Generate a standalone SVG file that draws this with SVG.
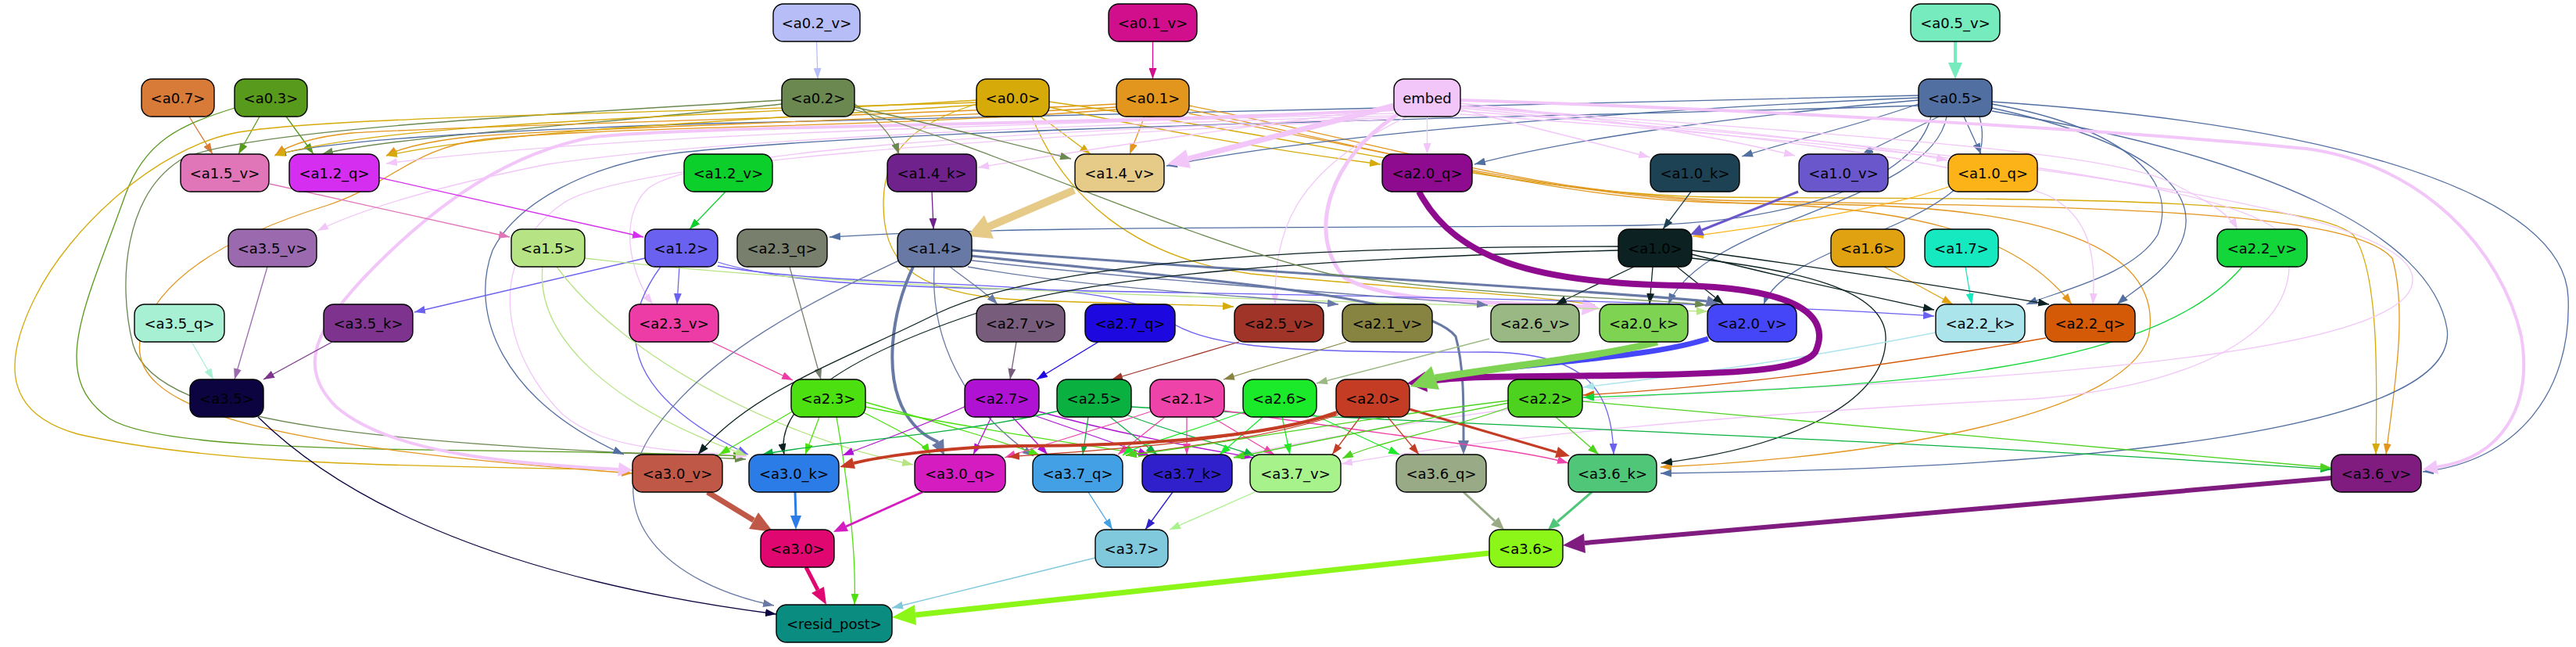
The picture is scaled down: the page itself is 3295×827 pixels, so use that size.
<svg xmlns="http://www.w3.org/2000/svg" width="3295" height="827" viewBox="0 0 3295 827">
<style>
.n rect{stroke:#000;stroke-width:1.4}
.n text{font-family:"DejaVu Sans","Liberation Sans",sans-serif;font-size:18px;text-anchor:middle;fill:#000}
.t{fill:none;stroke-width:1.3}
.k{fill:none}
</style>
<defs>
<marker id="m-b7bdf7" viewBox="0 0 14 10" markerUnits="userSpaceOnUse" markerWidth="14" markerHeight="10" refX="14" refY="5" orient="auto"><path d="M0,0L14,5L0,10z" fill="#b7bdf7"/></marker>
<marker id="m-d10f8c" viewBox="0 0 14 10" markerUnits="userSpaceOnUse" markerWidth="14" markerHeight="10" refX="14" refY="5" orient="auto"><path d="M0,0L14,5L0,10z" fill="#d10f8c"/></marker>
<marker id="m-d87a38" viewBox="0 0 14 10" markerUnits="userSpaceOnUse" markerWidth="14" markerHeight="10" refX="14" refY="5" orient="auto"><path d="M0,0L14,5L0,10z" fill="#d87a38"/></marker>
<marker id="m-589a1c" viewBox="0 0 14 10" markerUnits="userSpaceOnUse" markerWidth="14" markerHeight="10" refX="14" refY="5" orient="auto"><path d="M0,0L14,5L0,10z" fill="#589a1c"/></marker>
<marker id="m-6a884f" viewBox="0 0 14 10" markerUnits="userSpaceOnUse" markerWidth="14" markerHeight="10" refX="14" refY="5" orient="auto"><path d="M0,0L14,5L0,10z" fill="#6a884f"/></marker>
<marker id="m-d5aa09" viewBox="0 0 14 10" markerUnits="userSpaceOnUse" markerWidth="14" markerHeight="10" refX="14" refY="5" orient="auto"><path d="M0,0L14,5L0,10z" fill="#d5aa09"/></marker>
<marker id="m-e2961e" viewBox="0 0 14 10" markerUnits="userSpaceOnUse" markerWidth="14" markerHeight="10" refX="14" refY="5" orient="auto"><path d="M0,0L14,5L0,10z" fill="#e2961e"/></marker>
<marker id="m-f2c6f9" viewBox="0 0 14 10" markerUnits="userSpaceOnUse" markerWidth="14" markerHeight="10" refX="14" refY="5" orient="auto"><path d="M0,0L14,5L0,10z" fill="#f2c6f9"/></marker>
<marker id="m-526fa2" viewBox="0 0 14 10" markerUnits="userSpaceOnUse" markerWidth="14" markerHeight="10" refX="14" refY="5" orient="auto"><path d="M0,0L14,5L0,10z" fill="#526fa2"/></marker>
<marker id="m-e075b8" viewBox="0 0 14 10" markerUnits="userSpaceOnUse" markerWidth="14" markerHeight="10" refX="14" refY="5" orient="auto"><path d="M0,0L14,5L0,10z" fill="#e075b8"/></marker>
<marker id="m-d62ef0" viewBox="0 0 14 10" markerUnits="userSpaceOnUse" markerWidth="14" markerHeight="10" refX="14" refY="5" orient="auto"><path d="M0,0L14,5L0,10z" fill="#d62ef0"/></marker>
<marker id="m-0ccf2c" viewBox="0 0 14 10" markerUnits="userSpaceOnUse" markerWidth="14" markerHeight="10" refX="14" refY="5" orient="auto"><path d="M0,0L14,5L0,10z" fill="#0ccf2c"/></marker>
<marker id="m-6f228b" viewBox="0 0 14 10" markerUnits="userSpaceOnUse" markerWidth="14" markerHeight="10" refX="14" refY="5" orient="auto"><path d="M0,0L14,5L0,10z" fill="#6f228b"/></marker>
<marker id="m-1d4254" viewBox="0 0 14 10" markerUnits="userSpaceOnUse" markerWidth="14" markerHeight="10" refX="14" refY="5" orient="auto"><path d="M0,0L14,5L0,10z" fill="#1d4254"/></marker>
<marker id="m-fcb318" viewBox="0 0 14 10" markerUnits="userSpaceOnUse" markerWidth="14" markerHeight="10" refX="14" refY="5" orient="auto"><path d="M0,0L14,5L0,10z" fill="#fcb318"/></marker>
<marker id="m-9a69ae" viewBox="0 0 14 10" markerUnits="userSpaceOnUse" markerWidth="14" markerHeight="10" refX="14" refY="5" orient="auto"><path d="M0,0L14,5L0,10z" fill="#9a69ae"/></marker>
<marker id="m-b6e484" viewBox="0 0 14 10" markerUnits="userSpaceOnUse" markerWidth="14" markerHeight="10" refX="14" refY="5" orient="auto"><path d="M0,0L14,5L0,10z" fill="#b6e484"/></marker>
<marker id="m-6b61f0" viewBox="0 0 14 10" markerUnits="userSpaceOnUse" markerWidth="14" markerHeight="10" refX="14" refY="5" orient="auto"><path d="M0,0L14,5L0,10z" fill="#6b61f0"/></marker>
<marker id="m-787f6d" viewBox="0 0 14 10" markerUnits="userSpaceOnUse" markerWidth="14" markerHeight="10" refX="14" refY="5" orient="auto"><path d="M0,0L14,5L0,10z" fill="#787f6d"/></marker>
<marker id="m-6879a5" viewBox="0 0 14 10" markerUnits="userSpaceOnUse" markerWidth="14" markerHeight="10" refX="14" refY="5" orient="auto"><path d="M0,0L14,5L0,10z" fill="#6879a5"/></marker>
<marker id="m-0c2222" viewBox="0 0 14 10" markerUnits="userSpaceOnUse" markerWidth="14" markerHeight="10" refX="14" refY="5" orient="auto"><path d="M0,0L14,5L0,10z" fill="#0c2222"/></marker>
<marker id="m-e0a210" viewBox="0 0 14 10" markerUnits="userSpaceOnUse" markerWidth="14" markerHeight="10" refX="14" refY="5" orient="auto"><path d="M0,0L14,5L0,10z" fill="#e0a210"/></marker>
<marker id="m-16e8c0" viewBox="0 0 14 10" markerUnits="userSpaceOnUse" markerWidth="14" markerHeight="10" refX="14" refY="5" orient="auto"><path d="M0,0L14,5L0,10z" fill="#16e8c0"/></marker>
<marker id="m-12d63a" viewBox="0 0 14 10" markerUnits="userSpaceOnUse" markerWidth="14" markerHeight="10" refX="14" refY="5" orient="auto"><path d="M0,0L14,5L0,10z" fill="#12d63a"/></marker>
<marker id="m-a8f0d4" viewBox="0 0 14 10" markerUnits="userSpaceOnUse" markerWidth="14" markerHeight="10" refX="14" refY="5" orient="auto"><path d="M0,0L14,5L0,10z" fill="#a8f0d4"/></marker>
<marker id="m-7e348e" viewBox="0 0 14 10" markerUnits="userSpaceOnUse" markerWidth="14" markerHeight="10" refX="14" refY="5" orient="auto"><path d="M0,0L14,5L0,10z" fill="#7e348e"/></marker>
<marker id="m-ee3ca6" viewBox="0 0 14 10" markerUnits="userSpaceOnUse" markerWidth="14" markerHeight="10" refX="14" refY="5" orient="auto"><path d="M0,0L14,5L0,10z" fill="#ee3ca6"/></marker>
<marker id="m-775c7c" viewBox="0 0 14 10" markerUnits="userSpaceOnUse" markerWidth="14" markerHeight="10" refX="14" refY="5" orient="auto"><path d="M0,0L14,5L0,10z" fill="#775c7c"/></marker>
<marker id="m-1e08e0" viewBox="0 0 14 10" markerUnits="userSpaceOnUse" markerWidth="14" markerHeight="10" refX="14" refY="5" orient="auto"><path d="M0,0L14,5L0,10z" fill="#1e08e0"/></marker>
<marker id="m-a03428" viewBox="0 0 14 10" markerUnits="userSpaceOnUse" markerWidth="14" markerHeight="10" refX="14" refY="5" orient="auto"><path d="M0,0L14,5L0,10z" fill="#a03428"/></marker>
<marker id="m-868440" viewBox="0 0 14 10" markerUnits="userSpaceOnUse" markerWidth="14" markerHeight="10" refX="14" refY="5" orient="auto"><path d="M0,0L14,5L0,10z" fill="#868440"/></marker>
<marker id="m-9ab884" viewBox="0 0 14 10" markerUnits="userSpaceOnUse" markerWidth="14" markerHeight="10" refX="14" refY="5" orient="auto"><path d="M0,0L14,5L0,10z" fill="#9ab884"/></marker>
<marker id="m-ace4ec" viewBox="0 0 14 10" markerUnits="userSpaceOnUse" markerWidth="14" markerHeight="10" refX="14" refY="5" orient="auto"><path d="M0,0L14,5L0,10z" fill="#ace4ec"/></marker>
<marker id="m-d55a08" viewBox="0 0 14 10" markerUnits="userSpaceOnUse" markerWidth="14" markerHeight="10" refX="14" refY="5" orient="auto"><path d="M0,0L14,5L0,10z" fill="#d55a08"/></marker>
<marker id="m-0c0440" viewBox="0 0 14 10" markerUnits="userSpaceOnUse" markerWidth="14" markerHeight="10" refX="14" refY="5" orient="auto"><path d="M0,0L14,5L0,10z" fill="#0c0440"/></marker>
<marker id="m-4ce010" viewBox="0 0 14 10" markerUnits="userSpaceOnUse" markerWidth="14" markerHeight="10" refX="14" refY="5" orient="auto"><path d="M0,0L14,5L0,10z" fill="#4ce010"/></marker>
<marker id="m-b012d4" viewBox="0 0 14 10" markerUnits="userSpaceOnUse" markerWidth="14" markerHeight="10" refX="14" refY="5" orient="auto"><path d="M0,0L14,5L0,10z" fill="#b012d4"/></marker>
<marker id="m-0ab040" viewBox="0 0 14 10" markerUnits="userSpaceOnUse" markerWidth="14" markerHeight="10" refX="14" refY="5" orient="auto"><path d="M0,0L14,5L0,10z" fill="#0ab040"/></marker>
<marker id="m-ee44aa" viewBox="0 0 14 10" markerUnits="userSpaceOnUse" markerWidth="14" markerHeight="10" refX="14" refY="5" orient="auto"><path d="M0,0L14,5L0,10z" fill="#ee44aa"/></marker>
<marker id="m-1aea2a" viewBox="0 0 14 10" markerUnits="userSpaceOnUse" markerWidth="14" markerHeight="10" refX="14" refY="5" orient="auto"><path d="M0,0L14,5L0,10z" fill="#1aea2a"/></marker>
<marker id="m-c43c24" viewBox="0 0 14 10" markerUnits="userSpaceOnUse" markerWidth="14" markerHeight="10" refX="14" refY="5" orient="auto"><path d="M0,0L14,5L0,10z" fill="#c43c24"/></marker>
<marker id="m-4ed220" viewBox="0 0 14 10" markerUnits="userSpaceOnUse" markerWidth="14" markerHeight="10" refX="14" refY="5" orient="auto"><path d="M0,0L14,5L0,10z" fill="#4ed220"/></marker>
<marker id="m-44a0e4" viewBox="0 0 14 10" markerUnits="userSpaceOnUse" markerWidth="14" markerHeight="10" refX="14" refY="5" orient="auto"><path d="M0,0L14,5L0,10z" fill="#44a0e4"/></marker>
<marker id="m-3020cc" viewBox="0 0 14 10" markerUnits="userSpaceOnUse" markerWidth="14" markerHeight="10" refX="14" refY="5" orient="auto"><path d="M0,0L14,5L0,10z" fill="#3020cc"/></marker>
<marker id="m-a8f28c" viewBox="0 0 14 10" markerUnits="userSpaceOnUse" markerWidth="14" markerHeight="10" refX="14" refY="5" orient="auto"><path d="M0,0L14,5L0,10z" fill="#a8f28c"/></marker>
<marker id="m-80c8dc" viewBox="0 0 14 10" markerUnits="userSpaceOnUse" markerWidth="14" markerHeight="10" refX="14" refY="5" orient="auto"><path d="M0,0L14,5L0,10z" fill="#80c8dc"/></marker>
</defs>
<rect x="0" y="0" width="3295" height="827" fill="#fff"/>
<g id="connectors">
<path class="t" stroke="#b7bdf7" marker-end="url(#m-b7bdf7)" d="M1044.5,53 L1046,101"/>
<path class="t" stroke="#d10f8c" stroke-width="1.5" marker-end="url(#m-d10f8c)" d="M1474.5,53 L1474.5,101"/>
<path class="k" stroke="#76ebbd" stroke-width="4" d="M2501,53 L2501,80"/><polygon fill="#76ebbd" points="2492,80 2510,80 2501,101"/>
<path class="t" stroke="#d87a38" marker-end="url(#m-d87a38)" d="M242,149 L272,197"/>
<path class="t" stroke="#589a1c" marker-end="url(#m-589a1c)" d="M332,149 L305,197"/>
<path class="t" stroke="#589a1c" marker-end="url(#m-589a1c)" d="M366,149 L401,197"/>
<path class="t" stroke="#589a1c" marker-end="url(#m-589a1c)" d="M300,138 C230,160 185,180 160,250 C110,390 60,480 140,535 C220,585 600,570 952,583"/>
<path class="t" stroke="#6a884f" marker-end="url(#m-6a884f)" d="M1000,128 C620,150 290,170 230,205 C160,250 150,360 170,440 C200,550 520,565 954,587"/>
<path class="t" stroke="#6a884f" marker-end="url(#m-6a884f)" d="M1000,133 C750,160 500,175 412,197"/>
<path class="t" stroke="#526fa2" marker-end="url(#m-526fa2)" d="M2454,122 C2000,135 1200,148 900,158 C600,168 420,180 352,198"/>
<path class="t" stroke="#e2961e" marker-end="url(#m-e2961e)" d="M1428,133 C1100,150 600,160 450,170 C400,175 370,185 352,198"/>
<path class="t" stroke="#e2961e" marker-end="url(#m-e2961e)" d="M1428,137 C1100,155 700,165 600,175 C550,180 510,190 494,199"/>
<path class="t" stroke="#d5aa09" stroke-width="1.6" marker-end="url(#m-d5aa09)" d="M1249,128 C900,150 500,155 351,199"/>
<path class="t" stroke="#d5aa09" stroke-width="1.6" marker-end="url(#m-d5aa09)" d="M1249,134 C950,155 650,165 494,199"/>
<path class="t" stroke="#d5aa09" marker-end="url(#m-d5aa09)" d="M1249,131 C800,145 400,150 300,170 C200,190 90,290 45,380 C0,470 10,530 100,555 C300,600 600,595 809,601"/>
<path class="t" stroke="#e2961e" marker-end="url(#m-e2961e)" d="M1428,140 C1100,165 800,160 620,178 C530,188 500,235 420,262 C280,305 200,360 180,430 C160,520 320,570 809,605"/>
<path class="t" stroke="#d5aa09" marker-end="url(#m-d5aa09)" d="M1331,149 L1395,197"/>
<path class="t" stroke="#e2961e" marker-end="url(#m-e2961e)" d="M1464,149 L1445,197"/>
<path class="t" stroke="#d5aa09" marker-end="url(#m-d5aa09)" d="M1342,137 C1500,170 1650,195 1766,210"/>
<path class="t" stroke="#d5aa09" marker-end="url(#m-d5aa09)" d="M1249,133 C1160,160 1130,200 1130,260 C1130,330 1160,375 1300,383 C1400,388 1500,388 1578,392"/>
<path class="t" stroke="#d5aa09" marker-end="url(#m-d5aa09)" d="M1320,149 C1360,250 1450,330 1600,350 C1800,370 1950,375 2040,390"/>
<path class="t" stroke="#d5aa09" marker-end="url(#m-d5aa09)" d="M1342,130 C1700,180 1950,250 2200,252 C2600,255 2950,250 3010,300 C3045,350 3040,500 3039,581"/>
<path class="t" stroke="#e2961e" marker-end="url(#m-e2961e)" d="M1521,135 C1800,190 1950,245 2200,256 C2600,265 3000,262 3060,330 C3080,400 3062,500 3052,581"/>
<path class="t" stroke="#e2961e" marker-end="url(#m-e2961e)" d="M1521,140 C1800,200 2000,255 2200,259 C2450,262 2580,300 2650,389"/>
<path class="t" stroke="#e2961e" marker-end="url(#m-e2961e)" d="M1521,145 C1850,210 2050,262 2300,261 C2600,260 2760,310 2750,420 C2740,530 2400,585 2124,597"/>
<path class="t" stroke="#fcb318" marker-end="url(#m-fcb318)" d="M2495,238 C2400,270 2250,290 2165,302"/>
<path class="t" stroke="#e0a210" marker-end="url(#m-e0a210)" d="M2410,341 L2498,389"/>
<path class="t" stroke="#16e8c0" marker-end="url(#m-16e8c0)" d="M2514,341 L2522,389"/>
<path class="t" stroke="#526fa2" marker-end="url(#m-526fa2)" d="M2462,130 C2380,160 2290,180 2228,200"/>
<path class="t" stroke="#526fa2" marker-end="url(#m-526fa2)" d="M2480,149 L2382,197"/>
<path class="t" stroke="#526fa2" marker-end="url(#m-526fa2)" d="M2512,149 L2534,197"/>
<path class="t" stroke="#526fa2" marker-end="url(#m-526fa2)" d="M2454,128 C2200,150 2000,180 1886,210"/>
<path class="t" stroke="#526fa2" marker-end="url(#m-526fa2)" d="M2454,125 C2100,140 1700,170 1492,212"/>
<path class="t" stroke="#526fa2" marker-end="url(#m-526fa2)" d="M2470,149 C2450,230 2300,283 2100,288 C1700,292 1300,288 1061,303"/>
<path class="t" stroke="#526fa2" marker-end="url(#m-526fa2)" d="M2490,149 C2470,260 2180,280 2134,389"/>
<path class="t" stroke="#526fa2" marker-end="url(#m-526fa2)" d="M2532,149 C2570,290 2290,300 2256,389"/>
<path class="t" stroke="#526fa2" marker-end="url(#m-526fa2)" d="M2548,133 C2700,160 2790,220 2760,300 C2730,350 2640,370 2592,389"/>
<path class="t" stroke="#526fa2" marker-end="url(#m-526fa2)" d="M2548,138 C2740,180 2820,240 2790,310 C2770,350 2730,370 2708,389"/>
<path class="t" stroke="#526fa2" marker-end="url(#m-526fa2)" d="M2548,142 C2900,200 3110,300 3130,420 C3150,560 2600,600 2124,605"/>
<path class="t" stroke="#526fa2" marker-end="url(#m-526fa2)" d="M2548,130 C3000,160 3280,250 3285,380 C3290,500 3220,590 3099,603"/>
<path class="t" stroke="#526fa2" marker-end="url(#m-526fa2)" d="M2454,135 C2000,150 1200,160 870,195 C750,210 660,260 630,320 C600,400 640,510 798,581"/>
<path class="t" stroke="#f2c6f9" marker-end="url(#m-f2c6f9)" d="M1783,145 C1300,160 800,170 494,209"/>
<path class="t" stroke="#f2c6f9" marker-end="url(#m-f2c6f9)" d="M1783,148 C1300,162 900,180 700,210 C560,238 460,268 406,295"/>
<path class="t" stroke="#f2c6f9" marker-end="url(#m-f2c6f9)" d="M1783,150 C1300,170 900,190 830,240 C790,275 805,350 835,389"/>
<path class="t" stroke="#f2c6f9" marker-end="url(#m-f2c6f9)" d="M1783,152 C1300,175 800,205 720,260 C620,330 640,450 720,530 C780,580 880,575 955,583"/>
<path class="t" stroke="#f2c6f9" stroke-width="2.5" marker-end="url(#m-f2c6f9)" d="M1783,138 C1600,160 1400,190 1251,214"/>
<path class="t" stroke="#f2c6f9" stroke-width="2.5" marker-end="url(#m-f2c6f9)" d="M1825.5,149 L1825.5,197"/>
<path class="t" stroke="#f2c6f9" marker-end="url(#m-f2c6f9)" d="M1868,140 C1950,160 2050,185 2110,201"/>
<path class="t" stroke="#f2c6f9" stroke-width="2.5" marker-end="url(#m-f2c6f9)" d="M1868,132 C2050,150 2200,175 2296,199"/>
<path class="t" stroke="#f2c6f9" marker-end="url(#m-f2c6f9)" d="M1868,136 C2150,160 2400,185 2491,205"/>
<path class="t" stroke="#f2c6f9" marker-end="url(#m-f2c6f9)" d="M1868,135 C2300,170 2700,190 2780,235 C2830,260 2852,275 2862,293"/>
<path class="t" stroke="#f2c6f9" marker-end="url(#m-f2c6f9)" d="M1868,138 C2200,170 2500,200 2620,250 C2680,280 2680,340 2677,389"/>
<path class="t" stroke="#f2c6f9" marker-end="url(#m-f2c6f9)" d="M1800,149 C1650,220 1630,300 1631,389"/>
<path class="t" stroke="#f2c6f9" marker-end="url(#m-f2c6f9)" d="M1868,142 C2400,180 2850,230 2920,300 C2960,400 2850,490 2600,510 C2200,530 1900,560 1716,593"/>
<path class="t" stroke="#f2c6f9" marker-end="url(#m-f2c6f9)" d="M1868,146 C2500,190 3060,260 3085,350 C3110,440 2700,480 2200,500 C1900,515 1700,560 1578,583"/>
<path class="k" stroke="#f2c6f9" stroke-width="7" d="M1783,135 L1520,203"/><polygon fill="#f2c6f9" points="1493,210 1523,215 1517,191"/>
<path class="k" stroke="#f2c6f9" stroke-width="5" d="M1790,145 C1700,200 1670,300 1720,355 C1780,390 1920,385 2024,392"/><polygon fill="#f2c6f9" points="2046,394 2023,403 2025,381"/>
<path class="k" stroke="#f2c6f9" stroke-width="4" d="M1783,140 C1400,160 900,160 760,175 C650,195 560,260 480,340 C400,420 380,470 430,520 C500,580 650,592 791,600"/><polygon fill="#f2c6f9" points="809,601 790,609 792,591"/>
<path class="k" stroke="#f2c6f9" stroke-width="4" d="M1868,128 C2200,138 2700,165 2950,190 C3100,210 3200,320 3225,430 C3240,520 3200,585 3117,597"/><polygon fill="#f2c6f9" points="3099,600 3119,606 3116,588"/>
<path class="t" stroke="#e075b8" marker-end="url(#m-e075b8)" d="M345,235 L652,303"/>
<path class="t" stroke="#d62ef0" stroke-width="2.2" marker-end="url(#m-d62ef0)" d="M485,227 L823,303"/>
<path class="t" stroke="#0ccf2c" marker-end="url(#m-0ccf2c)" d="M928,245 L882,293"/>
<path class="t" stroke="#6f228b" marker-end="url(#m-6f228b)" d="M1192,245 L1194,293"/>
<path class="t" stroke="#1d4254" marker-end="url(#m-1d4254)" d="M2163,245 L2127,293"/>
<path class="k" stroke="#e6cb88" stroke-width="10" d="M1374,243 L1264,290"/><polygon fill="#e6cb88" points="1237,302 1271,305 1259,275"/>
<path class="k" stroke="#6a57cc" stroke-width="3" d="M2300,245 L2177,294"/><polygon fill="#6a57cc" points="2162,300 2180,301 2174,287"/>
<path class="t" stroke="#9a69ae" marker-end="url(#m-9a69ae)" d="M342,341 L300,485"/>
<path class="t" stroke="#a8f0d4" marker-end="url(#m-a8f0d4)" d="M245,437 L273,485"/>
<path class="t" stroke="#7e348e" marker-end="url(#m-7e348e)" d="M425,437 L337,485"/>
<path class="t" stroke="#0c0440" marker-end="url(#m-0c0440)" d="M330,533 C500,700 800,760 993,785"/>
<path class="t" stroke="#6b61f0" marker-end="url(#m-6b61f0)" d="M825,330 L530,399"/>
<path class="t" stroke="#6b61f0" marker-end="url(#m-6b61f0)" d="M869,341 L866,389"/>
<path class="t" stroke="#6b61f0" marker-end="url(#m-6b61f0)" d="M845,341 C780,430 810,510 957,581"/>
<path class="t" stroke="#6b61f0" stroke-width="1.8" marker-end="url(#m-6b61f0)" d="M918,335 C1000,360 1100,365 1300,370 C1800,380 2200,385 2474,404"/>
<path class="t" stroke="#6b61f0" marker-end="url(#m-6b61f0)" d="M918,340 C1100,372 1400,352 1480,400 C1530,440 1600,452 1900,450 C2030,450 2062,500 2064,581"/>
<path class="t" stroke="#b6e484" marker-end="url(#m-b6e484)" d="M694,341 C685,430 780,520 955,582"/>
<path class="t" stroke="#b6e484" marker-end="url(#m-b6e484)" d="M712,341 C800,460 1000,560 1168,594"/>
<path class="t" stroke="#b6e484" marker-end="url(#m-b6e484)" d="M748,330 C1000,360 1400,380 2184,398"/>
<path class="t" stroke="#787f6d" marker-end="url(#m-787f6d)" d="M1010,341 L1050,485"/>
<path class="t" stroke="#ee3ca6" marker-end="url(#m-ee3ca6)" d="M910,437 L1014,486"/>
<path class="t" stroke="#6879a5" marker-end="url(#m-6879a5)" d="M1215,341 C1240,360 1262,375 1276,389"/>
<path class="t" stroke="#6879a5" marker-end="url(#m-6879a5)" d="M1238,341 C1400,370 1600,378 1712,389"/>
<path class="t" stroke="#6879a5" marker-end="url(#m-6879a5)" d="M1243,333 C1500,362 1800,380 1903,390"/>
<path class="t" stroke="#6879a5" marker-end="url(#m-6879a5)" d="M1195,341 C1190,430 1230,520 1322,583"/>
<path class="t" stroke="#6879a5" marker-end="url(#m-6879a5)" d="M1150,333 C1050,380 900,450 830,560 C770,660 850,745 990,774"/>
<path class="k" stroke="#6879a5" stroke-width="4" d="M1168,341 C1140,400 1130,480 1158,528 C1175,555 1192,561 1200,565"/><polygon fill="#6879a5" points="1208,582 1192,569 1207,561"/>
<path class="k" stroke="#6879a5" stroke-width="3" d="M1243,327 C1500,355 1820,375 1862,430 C1873,470 1872,520 1872,563"/><polygon fill="#6879a5" points="1872,581 1865,563 1879,563"/>
<path class="k" stroke="#6879a5" stroke-width="3" d="M1243,320 C1600,348 2000,368 2183,385"/><polygon fill="#6879a5" points="2200,389 2181,392 2185,378"/>
<path class="t" stroke="#0c2222" marker-end="url(#m-0c2222)" d="M2090,341 L1990,389"/>
<path class="t" stroke="#0c2222" marker-end="url(#m-0c2222)" d="M2114,341 L2110,389"/>
<path class="t" stroke="#0c2222" stroke-width="1.8" marker-end="url(#m-0c2222)" d="M2145,341 L2205,389"/>
<path class="t" stroke="#0c2222" marker-end="url(#m-0c2222)" d="M2164,325 C2300,360 2400,380 2474,396"/>
<path class="t" stroke="#0c2222" marker-end="url(#m-0c2222)" d="M2164,320 C2350,345 2500,368 2621,389"/>
<path class="t" stroke="#0c2222" marker-end="url(#m-0c2222)" d="M2164,330 C2300,345 2410,370 2412,430 C2415,510 2300,570 2125,592"/>
<path class="t" stroke="#0c2222" marker-end="url(#m-0c2222)" d="M2070,315 C1700,315 1350,330 1200,400 C1080,460 960,500 893,581"/>
<path class="t" stroke="#0c2222" marker-end="url(#m-0c2222)" d="M2070,320 C1700,330 1400,350 1250,400 C1100,450 990,510 1003,581"/>
<path class="t" stroke="#6a884f" marker-end="url(#m-6a884f)" d="M1093,133 C1120,150 1140,170 1150,197"/>
<path class="t" stroke="#6a884f" marker-end="url(#m-6a884f)" d="M1093,137 C1200,160 1300,185 1370,203"/>
<path class="t" stroke="#6a884f" marker-end="url(#m-6a884f)" d="M1093,140 C1300,200 1500,300 1700,350 C1900,380 2100,380 2182,390"/>
<path class="t" stroke="#ace4ec" marker-end="url(#m-ace4ec)" d="M2476,425 C2300,460 2150,480 2025,495"/>
<path class="t" stroke="#d55a08" marker-end="url(#m-d55a08)" d="M2617,432 C2400,470 2200,495 2025,505"/>
<path class="t" stroke="#12d63a" marker-end="url(#m-12d63a)" d="M2868,341 C2750,480 2400,495 2025,508"/>
<path class="t" stroke="#775c7c" marker-end="url(#m-775c7c)" d="M1300,437 L1292,485"/>
<path class="t" stroke="#1e08e0" marker-end="url(#m-1e08e0)" d="M1405,437 L1326,485"/>
<path class="t" stroke="#a03428" marker-end="url(#m-a03428)" d="M1585,437 L1422,485"/>
<path class="t" stroke="#868440" marker-end="url(#m-868440)" d="M1722,437 L1565,485"/>
<path class="t" stroke="#9ab884" marker-end="url(#m-9ab884)" d="M1905,433 L1684,490"/>
<path class="k" stroke="#8e0a8e" stroke-width="8" d="M1815,245 C1860,330 1960,362 2150,365 C2290,368 2345,400 2322,450 C2300,482 2150,478 1900,482 C1860,483 1840,485 1824,488"/><polygon fill="#8e0a8e" points="1800,490 1826,501 1823,475"/>
<path class="k" stroke="#4446f8" stroke-width="7" d="M2185,433 C2100,460 1950,462 1836,483"/>
<path class="k" stroke="#7ed452" stroke-width="9" d="M2120,437 C2050,455 1950,465 1836,483"/><polygon fill="#7ed452" points="1804,494 1841,498 1831,468"/>
<path class="t" stroke="#4ce010" marker-end="url(#m-4ce010)" d="M1015,525 L920,581"/>
<path class="t" stroke="#4ce010" marker-end="url(#m-4ce010)" d="M1048,533 L1030,581"/>
<path class="t" stroke="#4ce010" marker-end="url(#m-4ce010)" d="M1100,525 C1150,550 1180,565 1190,581"/>
<path class="t" stroke="#4ce010" marker-end="url(#m-4ce010)" d="M1107,514 C1200,540 1300,570 1330,582"/>
<path class="t" stroke="#4ce010" marker-end="url(#m-4ce010)" d="M1107,520 C1250,550 1400,570 1470,582"/>
<path class="t" stroke="#4ce010" marker-end="url(#m-4ce010)" d="M1070,533 C1090,650 1095,720 1093,773"/>
<path class="t" stroke="#b012d4" marker-end="url(#m-b012d4)" d="M1268,533 L1245,581"/>
<path class="t" stroke="#b012d4" marker-end="url(#m-b012d4)" d="M1295,533 L1340,581"/>
<path class="t" stroke="#b012d4" marker-end="url(#m-b012d4)" d="M1320,530 L1470,582"/>
<path class="t" stroke="#b012d4" marker-end="url(#m-b012d4)" d="M1238,518 C1180,545 1120,565 1078,582"/>
<path class="t" stroke="#b012d4" marker-end="url(#m-b012d4)" d="M1325,525 C1450,560 1550,575 1602,585"/>
<path class="t" stroke="#0ab040" marker-end="url(#m-0ab040)" d="M1392,533 L1385,581"/>
<path class="t" stroke="#0ab040" marker-end="url(#m-0ab040)" d="M1420,533 L1480,581"/>
<path class="t" stroke="#0ab040" marker-end="url(#m-0ab040)" d="M1355,525 C1200,560 1050,565 975,581"/>
<path class="t" stroke="#0ab040" marker-end="url(#m-0ab040)" d="M1440,530 C1520,560 1580,572 1605,583"/>
<path class="t" stroke="#0ab040" marker-end="url(#m-0ab040)" d="M1447,520 C1800,540 2400,560 2982,600"/>
<path class="t" stroke="#ee44aa" marker-end="url(#m-ee44aa)" d="M1518,533 L1518,581"/>
<path class="t" stroke="#ee44aa" marker-end="url(#m-ee44aa)" d="M1490,533 L1430,581"/>
<path class="t" stroke="#ee44aa" marker-end="url(#m-ee44aa)" d="M1550,533 L1630,581"/>
<path class="t" stroke="#ee44aa" marker-end="url(#m-ee44aa)" d="M1475,525 C1400,550 1330,570 1285,585"/>
<path class="t" stroke="#ee44aa" marker-end="url(#m-ee44aa)" d="M1566,525 C1800,560 1950,575 2006,592"/>
<path class="t" stroke="#1aea2a" marker-end="url(#m-1aea2a)" d="M1640,533 L1650,581"/>
<path class="t" stroke="#1aea2a" marker-end="url(#m-1aea2a)" d="M1615,533 L1560,581"/>
<path class="t" stroke="#1aea2a" marker-end="url(#m-1aea2a)" d="M1680,530 L1790,581"/>
<path class="t" stroke="#1aea2a" marker-end="url(#m-1aea2a)" d="M1595,525 C1500,560 1450,570 1436,582"/>
<path class="t" stroke="#c43c24" stroke-width="2" marker-end="url(#m-c43c24)" d="M1709,530 C1550,570 1400,575 1290,584"/>
<path class="t" stroke="#c43c24" marker-end="url(#m-c43c24)" d="M1712,530 C1620,560 1520,570 1440,582"/>
<path class="t" stroke="#c43c24" marker-end="url(#m-c43c24)" d="M1740,533 L1704,581"/>
<path class="t" stroke="#c43c24" marker-end="url(#m-c43c24)" d="M1775,533 L1815,581"/>
<path class="k" stroke="#c43c24" stroke-width="4" d="M1710,527 C1620,560 1450,570 1300,570 C1200,572 1120,585 1092,592"/><polygon fill="#c43c24" points="1074,597 1094,599 1090,585"/>
<path class="k" stroke="#c43c24" stroke-width="3" d="M1803,523 L1991,578"/><polygon fill="#c43c24" points="2008,583 1989,585 1993,571"/>
<path class="t" stroke="#4ed220" marker-end="url(#m-4ed220)" d="M1990,533 L2045,581"/>
<path class="t" stroke="#4ed220" marker-end="url(#m-4ed220)" d="M2024,513 L2982,598"/>
<path class="t" stroke="#4ed220" marker-end="url(#m-4ed220)" d="M1932,520 C1850,550 1760,565 1717,586"/>
<path class="t" stroke="#4ed220" marker-end="url(#m-4ed220)" d="M1930,515 C1800,540 1650,570 1578,585"/>
<path class="t" stroke="#4ed220" marker-end="url(#m-4ed220)" d="M1930,512 C1700,540 1550,570 1440,582"/>
<path class="k" stroke="#c05848" stroke-width="7" d="M905,629 L964,665"/><polygon fill="#c05848" points="989,680 958,676 970,655"/>
<path class="k" stroke="#2c7ce8" stroke-width="3" d="M1017,629 L1018,660"/><polygon fill="#2c7ce8" points="1018,677 1011,659 1025,659"/>
<path class="k" stroke="#d41cc0" stroke-width="3" d="M1180,629 L1082,673"/><polygon fill="#d41cc0" points="1066,680 1085,679 1079,666"/>
<path class="t" stroke="#44a0e4" marker-end="url(#m-44a0e4)" d="M1392,629 L1423,677"/>
<path class="t" stroke="#3020cc" marker-end="url(#m-3020cc)" d="M1500,629 L1465,677"/>
<path class="t" stroke="#a8f28c" marker-end="url(#m-a8f28c)" d="M1605,629 L1496,677"/>
<path class="k" stroke="#98aa86" stroke-width="3" d="M1872,629 L1912,666"/><polygon fill="#98aa86" points="1924,677 1907,671 1917,661"/>
<path class="k" stroke="#50c678" stroke-width="3" d="M2036,629 L1992,667"/><polygon fill="#50c678" points="1980,677 1996,672 1987,662"/>
<path class="k" stroke="#801c80" stroke-width="6" d="M2982,611 L2027,694"/><polygon fill="#801c80" points="1999,697 2028,707 2026,682"/>
<path class="k" stroke="#e00870" stroke-width="5" d="M1031,725 L1046,754"/><polygon fill="#e00870" points="1057,773 1038,758 1054,750"/>
<path class="t" stroke="#80c8dc" marker-end="url(#m-80c8dc)" d="M1405,712 L1141,777"/>
<path class="k" stroke="#8cf618" stroke-width="7" d="M1905,707 L1171,786"/><polygon fill="#8cf618" points="1141,789 1172,799 1170,773"/>
</g>
<g id="n-a0_2_v" class="n"><rect x="989" y="5" width="111" height="48" rx="13" fill="#b7bdf7"/><text x="1044.5" y="35.5">&lt;a0.2_v&gt;</text></g>
<g id="n-a0_1_v" class="n"><rect x="1418" y="5" width="113" height="48" rx="13" fill="#d10f8c"/><text x="1474.5" y="35.5">&lt;a0.1_v&gt;</text></g>
<g id="n-a0_5_v" class="n"><rect x="2444" y="5" width="114" height="48" rx="13" fill="#76ebbd"/><text x="2501" y="35.5">&lt;a0.5_v&gt;</text></g>
<g id="n-a0_7" class="n"><rect x="181" y="101" width="93" height="48" rx="13" fill="#d87a38"/><text x="227.5" y="131.5">&lt;a0.7&gt;</text></g>
<g id="n-a0_3" class="n"><rect x="300" y="101" width="93" height="48" rx="13" fill="#589a1c"/><text x="346.5" y="131.5">&lt;a0.3&gt;</text></g>
<g id="n-a0_2" class="n"><rect x="1000" y="101" width="93" height="48" rx="13" fill="#6a884f"/><text x="1046.5" y="131.5">&lt;a0.2&gt;</text></g>
<g id="n-a0_0" class="n"><rect x="1249" y="101" width="93" height="48" rx="13" fill="#d5aa09"/><text x="1295.5" y="131.5">&lt;a0.0&gt;</text></g>
<g id="n-a0_1" class="n"><rect x="1428" y="101" width="93" height="48" rx="13" fill="#e2961e"/><text x="1474.5" y="131.5">&lt;a0.1&gt;</text></g>
<g id="n-embed" class="n"><rect x="1783" y="101" width="85" height="48" rx="13" fill="#f2c6f9"/><text x="1825.5" y="131.5">embed</text></g>
<g id="n-a0_5" class="n"><rect x="2454" y="101" width="94" height="48" rx="13" fill="#526fa2"/><text x="2501" y="131.5">&lt;a0.5&gt;</text></g>
<g id="n-a1_5_v" class="n"><rect x="231" y="197" width="113" height="48" rx="13" fill="#e075b8"/><text x="287.5" y="227.5">&lt;a1.5_v&gt;</text></g>
<g id="n-a1_2_q" class="n"><rect x="370" y="197" width="115" height="48" rx="13" fill="#d62ef0"/><text x="427.5" y="227.5">&lt;a1.2_q&gt;</text></g>
<g id="n-a1_2_v" class="n"><rect x="875" y="197" width="113" height="48" rx="13" fill="#0ccf2c"/><text x="931.5" y="227.5">&lt;a1.2_v&gt;</text></g>
<g id="n-a1_4_k" class="n"><rect x="1135" y="197" width="114" height="48" rx="13" fill="#6f228b"/><text x="1192" y="227.5">&lt;a1.4_k&gt;</text></g>
<g id="n-a1_4_v" class="n"><rect x="1375" y="197" width="114" height="48" rx="13" fill="#e6cb88"/><text x="1432" y="227.5">&lt;a1.4_v&gt;</text></g>
<g id="n-a2_0_q" class="n"><rect x="1768" y="197" width="115" height="48" rx="13" fill="#8e0a8e"/><text x="1825.5" y="227.5">&lt;a2.0_q&gt;</text></g>
<g id="n-a1_0_k" class="n"><rect x="2111" y="197" width="114" height="48" rx="13" fill="#1d4254"/><text x="2168" y="227.5">&lt;a1.0_k&gt;</text></g>
<g id="n-a1_0_v" class="n"><rect x="2301" y="197" width="114" height="48" rx="13" fill="#6a57cc"/><text x="2358" y="227.5">&lt;a1.0_v&gt;</text></g>
<g id="n-a1_0_q" class="n"><rect x="2492" y="197" width="114" height="48" rx="13" fill="#fcb318"/><text x="2549" y="227.5">&lt;a1.0_q&gt;</text></g>
<g id="n-a3_5_v" class="n"><rect x="292" y="293" width="113" height="48" rx="13" fill="#9a69ae"/><text x="348.5" y="323.5">&lt;a3.5_v&gt;</text></g>
<g id="n-a1_5" class="n"><rect x="654" y="293" width="94" height="48" rx="13" fill="#b6e484"/><text x="701" y="323.5">&lt;a1.5&gt;</text></g>
<g id="n-a1_2" class="n"><rect x="825" y="293" width="93" height="48" rx="13" fill="#6b61f0"/><text x="871.5" y="323.5">&lt;a1.2&gt;</text></g>
<g id="n-a2_3_q" class="n"><rect x="943" y="293" width="115" height="48" rx="13" fill="#787f6d"/><text x="1000.5" y="323.5">&lt;a2.3_q&gt;</text></g>
<g id="n-a1_4" class="n"><rect x="1148" y="293" width="95" height="48" rx="13" fill="#6879a5"/><text x="1195.5" y="323.5">&lt;a1.4&gt;</text></g>
<g id="n-a1_0" class="n"><rect x="2070" y="293" width="94" height="48" rx="13" fill="#0c2222"/><text x="2117" y="323.5">&lt;a1.0&gt;</text></g>
<g id="n-a1_6" class="n"><rect x="2342" y="293" width="94" height="48" rx="13" fill="#e0a210"/><text x="2389" y="323.5">&lt;a1.6&gt;</text></g>
<g id="n-a1_7" class="n"><rect x="2462" y="293" width="94" height="48" rx="13" fill="#16e8c0"/><text x="2509" y="323.5">&lt;a1.7&gt;</text></g>
<g id="n-a2_2_v" class="n"><rect x="2836" y="293" width="115" height="48" rx="13" fill="#12d63a"/><text x="2893.5" y="323.5">&lt;a2.2_v&gt;</text></g>
<g id="n-a3_5_q" class="n"><rect x="172" y="389" width="115" height="48" rx="13" fill="#a8f0d4"/><text x="229.5" y="419.5">&lt;a3.5_q&gt;</text></g>
<g id="n-a3_5_k" class="n"><rect x="414" y="389" width="114" height="48" rx="13" fill="#7e348e"/><text x="471" y="419.5">&lt;a3.5_k&gt;</text></g>
<g id="n-a2_3_v" class="n"><rect x="805" y="389" width="114" height="48" rx="13" fill="#ee3ca6"/><text x="862" y="419.5">&lt;a2.3_v&gt;</text></g>
<g id="n-a2_7_v" class="n"><rect x="1249" y="389" width="113" height="48" rx="13" fill="#775c7c"/><text x="1305.5" y="419.5">&lt;a2.7_v&gt;</text></g>
<g id="n-a2_7_q" class="n"><rect x="1388" y="389" width="115" height="48" rx="13" fill="#1e08e0"/><text x="1445.5" y="419.5">&lt;a2.7_q&gt;</text></g>
<g id="n-a2_5_v" class="n"><rect x="1579" y="389" width="114" height="48" rx="13" fill="#a03428"/><text x="1636" y="419.5">&lt;a2.5_v&gt;</text></g>
<g id="n-a2_1_v" class="n"><rect x="1717" y="389" width="115" height="48" rx="13" fill="#868440"/><text x="1774.5" y="419.5">&lt;a2.1_v&gt;</text></g>
<g id="n-a2_6_v" class="n"><rect x="1907" y="389" width="113" height="48" rx="13" fill="#9ab884"/><text x="1963.5" y="419.5">&lt;a2.6_v&gt;</text></g>
<g id="n-a2_0_k" class="n"><rect x="2046" y="389" width="113" height="48" rx="13" fill="#7ed452"/><text x="2102.5" y="419.5">&lt;a2.0_k&gt;</text></g>
<g id="n-a2_0_v" class="n"><rect x="2184" y="389" width="114" height="48" rx="13" fill="#4446f8"/><text x="2241" y="419.5">&lt;a2.0_v&gt;</text></g>
<g id="n-a2_2_k" class="n"><rect x="2476" y="389" width="114" height="48" rx="13" fill="#ace4ec"/><text x="2533" y="419.5">&lt;a2.2_k&gt;</text></g>
<g id="n-a2_2_q" class="n"><rect x="2616" y="389" width="115" height="48" rx="13" fill="#d55a08"/><text x="2673.5" y="419.5">&lt;a2.2_q&gt;</text></g>
<g id="n-a3_5" class="n"><rect x="243" y="485" width="94" height="48" rx="13" fill="#0c0440"/><text x="290" y="515.5">&lt;a3.5&gt;</text></g>
<g id="n-a2_3" class="n"><rect x="1012" y="485" width="95" height="48" rx="13" fill="#4ce010"/><text x="1059.5" y="515.5">&lt;a2.3&gt;</text></g>
<g id="n-a2_7" class="n"><rect x="1234" y="485" width="95" height="48" rx="13" fill="#b012d4"/><text x="1281.5" y="515.5">&lt;a2.7&gt;</text></g>
<g id="n-a2_5" class="n"><rect x="1352" y="485" width="95" height="48" rx="13" fill="#0ab040"/><text x="1399.5" y="515.5">&lt;a2.5&gt;</text></g>
<g id="n-a2_1" class="n"><rect x="1471" y="485" width="95" height="48" rx="13" fill="#ee44aa"/><text x="1518.5" y="515.5">&lt;a2.1&gt;</text></g>
<g id="n-a2_6" class="n"><rect x="1590" y="485" width="94" height="48" rx="13" fill="#1aea2a"/><text x="1637" y="515.5">&lt;a2.6&gt;</text></g>
<g id="n-a2_0" class="n"><rect x="1709" y="485" width="94" height="48" rx="13" fill="#c43c24"/><text x="1756" y="515.5">&lt;a2.0&gt;</text></g>
<g id="n-a2_2" class="n"><rect x="1929" y="485" width="95" height="48" rx="13" fill="#4ed220"/><text x="1976.5" y="515.5">&lt;a2.2&gt;</text></g>
<g id="n-a3_0_v" class="n"><rect x="809" y="581" width="115" height="48" rx="13" fill="#c05848"/><text x="866.5" y="611.5">&lt;a3.0_v&gt;</text></g>
<g id="n-a3_0_k" class="n"><rect x="958" y="581" width="115" height="48" rx="13" fill="#2c7ce8"/><text x="1015.5" y="611.5">&lt;a3.0_k&gt;</text></g>
<g id="n-a3_0_q" class="n"><rect x="1170" y="581" width="116" height="48" rx="13" fill="#d41cc0"/><text x="1228" y="611.5">&lt;a3.0_q&gt;</text></g>
<g id="n-a3_7_q" class="n"><rect x="1321" y="581" width="115" height="48" rx="13" fill="#44a0e4"/><text x="1378.5" y="611.5">&lt;a3.7_q&gt;</text></g>
<g id="n-a3_7_k" class="n"><rect x="1461" y="581" width="115" height="48" rx="13" fill="#3020cc"/><text x="1518.5" y="611.5">&lt;a3.7_k&gt;</text></g>
<g id="n-a3_7_v" class="n"><rect x="1599" y="581" width="116" height="48" rx="13" fill="#a8f28c"/><text x="1657" y="611.5">&lt;a3.7_v&gt;</text></g>
<g id="n-a3_6_q" class="n"><rect x="1786" y="581" width="115" height="48" rx="13" fill="#98aa86"/><text x="1843.5" y="611.5">&lt;a3.6_q&gt;</text></g>
<g id="n-a3_6_k" class="n"><rect x="2006" y="581" width="113" height="48" rx="13" fill="#50c678"/><text x="2062.5" y="611.5">&lt;a3.6_k&gt;</text></g>
<g id="n-a3_6_v" class="n"><rect x="2982" y="581" width="115" height="48" rx="13" fill="#801c80"/><text x="3039.5" y="611.5">&lt;a3.6_v&gt;</text></g>
<g id="n-a3_0" class="n"><rect x="973" y="677" width="94" height="48" rx="13" fill="#e00870"/><text x="1020" y="707.5">&lt;a3.0&gt;</text></g>
<g id="n-a3_7" class="n"><rect x="1401" y="677" width="93" height="48" rx="13" fill="#80c8dc"/><text x="1447.5" y="707.5">&lt;a3.7&gt;</text></g>
<g id="n-a3_6" class="n"><rect x="1905" y="677" width="94" height="48" rx="13" fill="#8cf618"/><text x="1952" y="707.5">&lt;a3.6&gt;</text></g>
<g id="n-resid_post" class="n"><rect x="993" y="773" width="148" height="48" rx="13" fill="#0a8c80"/><text x="1067" y="803.5">&lt;resid_post&gt;</text></g>
</svg>
